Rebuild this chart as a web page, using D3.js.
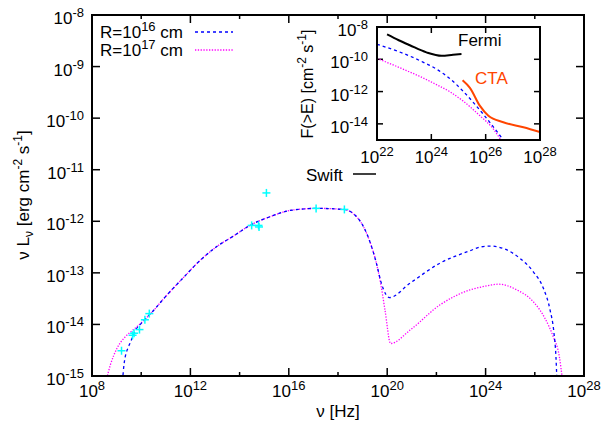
<!DOCTYPE html>
<html>
<head>
<meta charset="utf-8">
<script src="https://cdn.jsdelivr.net/npm/d3@7"></script>
<style>
  body { margin: 0; background: #fff; }
  svg text { font-family: "Liberation Sans", Arial, Helvetica, sans-serif; fill: #000; }
</style>
</head>
<body>
<div id="chart"></div>
<script>
// all values are log10 of the quantity: [log nu (Hz), log nuL_nu (erg cm^-2 s^-1)]
const modelR16 = [
    [9.24, -15.1], [9.30, -14.78], [9.35, -14.63], [9.45, -14.47], [9.56, -14.35],
    [9.76, -14.12], [10.0, -13.98], [10.5, -13.73], [10.97, -13.47], [11.7, -13.10],
    [12.39, -12.76], [13.1, -12.48], [13.74, -12.29], [14.42, -12.08], [15.24, -11.91],
    [16.05, -11.79], [17.13, -11.75], [18.22, -11.77], [18.62, -11.85], [19.03, -12.10],
    [19.30, -12.40], [19.57, -12.83], [19.75, -13.18], [19.95, -13.42], [20.09, -13.48],
    [20.93, -13.20], [22.15, -12.81], [23.37, -12.57], [23.77, -12.50], [24.18, -12.48],
    [24.79, -12.54], [25.40, -12.72], [25.94, -12.98], [26.35, -13.30], [26.62, -13.72],
    [26.78, -14.17], [26.86, -14.63], [26.90, -15.1]
];
const modelR17 = [
    [8.57, -15.1], [8.75, -14.78], [9.02, -14.46], [9.35, -14.24], [9.69, -14.10],
    [10.0, -13.97], [10.5, -13.73], [10.97, -13.47], [11.7, -13.10], [12.39, -12.76],
    [13.1, -12.48], [13.74, -12.29], [14.42, -12.08], [15.24, -11.91], [16.05, -11.79],
    [17.13, -11.75], [18.22, -11.77], [18.62, -11.85], [19.03, -12.10], [19.30, -12.40],
    [19.57, -12.83], [19.75, -13.25], [19.91, -13.72], [20.14, -14.37], [20.93, -14.11],
    [22.15, -13.62], [23.37, -13.33], [23.77, -13.28], [24.18, -13.24], [24.52, -13.22],
    [25.27, -13.33], [25.94, -13.56], [26.41, -13.88], [26.75, -14.24], [27.00, -14.63],
    [27.13, -15.1]
];
const obsPoints = [
    [9.20, -14.51], [9.65, -14.21], [9.71, -14.17], [9.93, -14.10], [10.15, -13.91],
    [10.33, -13.79], [14.49, -12.08], [14.77, -12.08], [14.79, -12.11], [15.09, -11.45],
    [17.11, -11.75], [18.26, -11.77]
];

// inset: [log E, log F(>E) (cm^-2 s^-1)]
const insetR16 = [
    [22.0, -9.07], [22.96, -9.63], [23.6, -10.10], [24.19, -10.61], [24.7, -11.22],
    [25.17, -11.98], [25.91, -13.40], [26.34, -14.31], [26.65, -15.0]
];
const insetR17 = [
    [22.0, -9.94], [22.96, -10.61], [23.6, -11.08], [24.19, -11.57], [24.7, -12.03],
    [25.17, -12.59], [25.79, -13.50], [26.28, -14.31], [26.56, -15.0]
];
const fermiSens = [
    [22.37, -8.46], [22.8, -8.82], [23.21, -9.13], [23.82, -9.57], [24.38, -9.78],
    [24.8, -9.72], [25.11, -9.68]
];
const ctaSens = [
    [25.15, -11.30], [25.42, -11.77], [25.79, -12.89], [26.10, -13.50], [26.65, -13.90],
    [27.39, -14.21], [28.0, -14.51]
];

const mainXTicks = [8, 12, 16, 20, 24, 28];
const mainXMinor = [10, 14, 18, 22, 26];
const mainYTicks = [-15, -14, -13, -12, -11, -10, -9, -8];
const insetXTicks = [22, 24, 26, 28];
const insetYTicks = [-14, -12, -10, -8];

const width = 601, height = 430;
const svg = d3.select("#chart").append("svg")
    .attr("width", width)
    .attr("height", height);

const main = { left: 92, right: 584, top: 15, bottom: 376 };
const inset = { left: 377, right: 540, top: 27, bottom: 140 };

const x = d3.scaleLog().domain([1e8, 1e28]).range([main.left, main.right]);
const y = d3.scaleLog().domain([1e-15, 1e-8]).range([main.bottom, main.top]);
const xi = d3.scaleLog().domain([1e22, 1e28]).range([inset.left, inset.right]);
const yi = d3.scaleLog().domain([1e-15, 1e-8]).range([inset.bottom, inset.top]);

const defs = svg.append("defs");
defs.append("clipPath").attr("id", "clipMain").append("rect")
    .attr("x", main.left).attr("y", main.top)
    .attr("width", main.right - main.left).attr("height", main.bottom - main.top);
defs.append("clipPath").attr("id", "clipInset").append("rect")
    .attr("x", inset.left).attr("y", inset.top)
    .attr("width", inset.right - inset.left).attr("height", inset.bottom - inset.top);

// label like 10^n
function powText(g, px, py, exp, anchor, size) {
    const t = g.append("text")
        .attr("x", px).attr("y", py)
        .attr("text-anchor", anchor)
        .style("font-size", size + "px");
    t.append("tspan").text("10");
    t.append("tspan").attr("dy", -7).style("font-size", (size - 4) + "px").text(String(exp).replace("-", "-"));
    return t;
}

function tickAxes(g, sx, sy, box, xt, xminor, yt, len) {
    // x ticks bottom & top
    g.selectAll(null).data(xt).enter().append("line")
        .attr("x1", d => sx(10 ** d)).attr("x2", d => sx(10 ** d))
        .attr("y1", box.bottom).attr("y2", box.bottom - len);
    g.selectAll(null).data(xt).enter().append("line")
        .attr("x1", d => sx(10 ** d)).attr("x2", d => sx(10 ** d))
        .attr("y1", box.top).attr("y2", box.top + len);
    g.selectAll(null).data(xminor).enter().append("line")
        .attr("x1", d => sx(10 ** d)).attr("x2", d => sx(10 ** d))
        .attr("y1", box.bottom).attr("y2", box.bottom - len / 2);
    g.selectAll(null).data(xminor).enter().append("line")
        .attr("x1", d => sx(10 ** d)).attr("x2", d => sx(10 ** d))
        .attr("y1", box.top).attr("y2", box.top + len / 2);
    // y ticks left & right
    g.selectAll(null).data(yt).enter().append("line")
        .attr("y1", d => sy(10 ** d)).attr("y2", d => sy(10 ** d))
        .attr("x1", box.left).attr("x2", box.left + len);
    g.selectAll(null).data(yt).enter().append("line")
        .attr("y1", d => sy(10 ** d)).attr("y2", d => sy(10 ** d))
        .attr("x1", box.right).attr("x2", box.right - len);
    g.selectAll("line").attr("stroke", "#000").attr("stroke-width", 1.5);
}

// ---------- main panel ----------
const gMain = svg.append("g");
const mainTicks = gMain.append("g");
tickAxes(mainTicks, x, y, main, mainXTicks, mainXMinor, mainYTicks, 8);

mainXTicks.forEach(e => powText(gMain, x(10 ** e), 397, e, "middle", 17));
mainYTicks.forEach(e => powText(gMain, 84, y(10 ** e) + 9, e, "end", 17));

const line = d3.line()
    .x(d => x(10 ** d[0]))
    .y(d => y(10 ** d[1]))
    .curve(d3.curveMonotoneX);

const curves = gMain.append("g").attr("clip-path", "url(#clipMain)");
curves.append("path")
    .datum(modelR17)
    .attr("d", line)
    .attr("fill", "none")
    .attr("stroke", "#ff00ff")
    .attr("stroke-width", 1.3)
    .attr("stroke-dasharray", "1.3,1.5");
curves.append("path")
    .datum(modelR16)
    .attr("d", line)
    .attr("fill", "none")
    .attr("stroke", "#0000ff")
    .attr("stroke-width", 1.3)
    .attr("stroke-dasharray", "3,3");

// observed points as "+"
const pts = gMain.append("g").attr("stroke", "#00ffff").attr("stroke-width", 1.5);
pts.selectAll(".h").data(obsPoints).enter().append("line")
    .attr("x1", d => x(10 ** d[0]) - 4).attr("x2", d => x(10 ** d[0]) + 4)
    .attr("y1", d => y(10 ** d[1])).attr("y2", d => y(10 ** d[1]));
pts.selectAll(".v").data(obsPoints).enter().append("line")
    .attr("x1", d => x(10 ** d[0])).attr("x2", d => x(10 ** d[0]))
    .attr("y1", d => y(10 ** d[1]) - 4).attr("y2", d => y(10 ** d[1]) + 4);

gMain.append("rect")
    .attr("x", main.left).attr("y", main.top)
    .attr("width", main.right - main.left).attr("height", main.bottom - main.top)
    .attr("fill", "none").attr("stroke", "#000").attr("stroke-width", 2);

// axis titles
gMain.append("text")
    .attr("x", 338).attr("y", 417)
    .attr("text-anchor", "middle")
    .style("font-size", "17px")
    .text("\u03bd [Hz]");

const yTitle = gMain.append("text")
    .attr("transform", "translate(29,195) rotate(-90)")
    .attr("text-anchor", "middle")
    .style("font-size", "17px");
yTitle.append("tspan").text("\u03bd L");
yTitle.append("tspan").attr("dy", 4).style("font-size", "12px").text("\u03bd");
yTitle.append("tspan").attr("dy", -4).text(" [erg cm");
yTitle.append("tspan").attr("dy", -7).style("font-size", "12px").text("-2");
yTitle.append("tspan").attr("dy", 7).text(" s");
yTitle.append("tspan").attr("dy", -7).style("font-size", "12px").text("-1");
yTitle.append("tspan").attr("dy", 7).text("]");

// legend
const legend = gMain.append("g");
const legendItems = [
    { exp: "16", color: "#0000ff", dash: "3,3", y: 38 },
    { exp: "17", color: "#ff00ff", dash: "1.3,1.5", y: 56 }
];
legendItems.forEach(d => {
    const t = legend.append("text").attr("x", 100).attr("y", d.y).style("font-size", "17px");
    t.append("tspan").text("R=10");
    t.append("tspan").attr("dy", -7).style("font-size", "13px").text(d.exp);
    t.append("tspan").attr("dy", 7).text(" cm");
    legend.append("line")
        .attr("x1", 195).attr("x2", 233)
        .attr("y1", d.y - 6).attr("y2", d.y - 6)
        .attr("stroke", d.color).attr("stroke-width", 1.3)
        .attr("stroke-dasharray", d.dash);
});

// Swift key
gMain.append("text").attr("x", 306).attr("y", 181).style("font-size", "17px").text("Swift");
gMain.append("line")
    .attr("x1", 353).attr("x2", 376).attr("y1", 174).attr("y2", 174)
    .attr("stroke", "#000").attr("stroke-width", 1.5);

// ---------- inset ----------
const gIn = svg.append("g");
gIn.append("rect")
    .attr("x", inset.left).attr("y", inset.top)
    .attr("width", inset.right - inset.left).attr("height", inset.bottom - inset.top)
    .attr("fill", "#fff");

const inTicks = gIn.append("g");
tickAxes(inTicks, xi, yi, inset, insetXTicks, [], insetYTicks, 6);

insetXTicks.forEach(e => powText(gIn, xi(10 ** e), 163, e, "middle", 17));
insetYTicks.forEach(e => powText(gIn, 368, yi(10 ** e) + 9, e, "end", 17));

const lineIn = d3.line()
    .x(d => xi(10 ** d[0]))
    .y(d => yi(10 ** d[1]))
    .curve(d3.curveMonotoneX);

const inCurves = gIn.append("g").attr("clip-path", "url(#clipInset)");
inCurves.append("path").datum(insetR17).attr("d", lineIn)
    .attr("fill", "none").attr("stroke", "#ff00ff").attr("stroke-width", 1.3)
    .attr("stroke-dasharray", "1.3,1.5");
inCurves.append("path").datum(insetR16).attr("d", lineIn)
    .attr("fill", "none").attr("stroke", "#0000ff").attr("stroke-width", 1.3)
    .attr("stroke-dasharray", "3,3");
inCurves.append("path").datum(fermiSens).attr("d", lineIn)
    .attr("fill", "none").attr("stroke", "#000").attr("stroke-width", 2);
inCurves.append("path").datum(ctaSens).attr("d", lineIn)
    .attr("fill", "none").attr("stroke", "#ff4500").attr("stroke-width", 2);

gIn.append("text").attr("x", 458).attr("y", 46).style("font-size", "17px").text("Fermi");
gIn.append("text").attr("x", 475).attr("y", 84).style("font-size", "17px")
    .style("fill", "#ff4500").text("CTA");

gIn.append("rect")
    .attr("x", inset.left).attr("y", inset.top)
    .attr("width", inset.right - inset.left).attr("height", inset.bottom - inset.top)
    .attr("fill", "none").attr("stroke", "#000").attr("stroke-width", 2);

const yiTitle = gIn.append("text")
    .attr("transform", "translate(313,84) rotate(-90)")
    .attr("text-anchor", "middle")
    .style("font-size", "16px");
yiTitle.append("tspan").text("F(>E) [cm");
yiTitle.append("tspan").attr("dy", -7).style("font-size", "12px").text("-2");
yiTitle.append("tspan").attr("dy", 7).text(" s");
yiTitle.append("tspan").attr("dy", -7).style("font-size", "12px").text("-1");
yiTitle.append("tspan").attr("dy", 7).text("]");
</script>
</body>
</html>
